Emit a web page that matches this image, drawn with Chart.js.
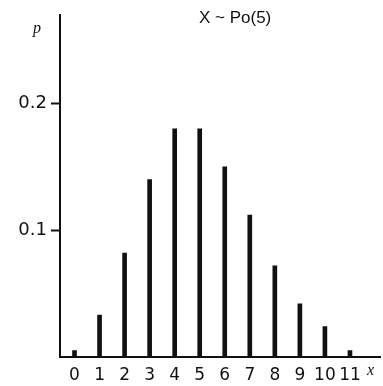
<!DOCTYPE html>
<html>
<head>
<meta charset="utf-8">
<script src="https://cdn.jsdelivr.net/npm/chart.js@4/dist/chart.umd.min.js"></script>
<style>
  html, body { margin: 0; padding: 0; background: #fff; }
  #wrap { width: 383px; height: 386px; }
</style>
</head>
<body>
<div id="wrap"><canvas id="myChart" width="383" height="386"></canvas></div>
<script>
// values
var xValues = [0, 1, 2, 3, 4, 5, 6, 7, 8, 9, 10, 11];
var probs = [0.005, 0.033, 0.082, 0.14, 0.18, 0.18, 0.15, 0.112, 0.072, 0.042, 0.024, 0.005];
var yTickValues = [0.1, 0.2];
var titleText = "X ~ Po(5)";

var points = xValues.map(function (x, i) { return { x: x, y: probs[i] }; });

// extra labels: title, p and x
var labelsPlugin = {
    id: "labels",
    afterDraw: function (chart) {
        var ctx = chart.ctx;
        ctx.save();
        ctx.fillStyle = "#111";
        ctx.textBaseline = "middle";
        ctx.textAlign = "left";
        ctx.font = "17px 'Liberation Sans'";
        ctx.fillText(titleText, 199, 18);
        ctx.font = "italic 16px 'Liberation Serif'";
        ctx.fillText("p", 33, 29);
        ctx.fillText("x", 367, 371);
        ctx.restore();
    }
};

new Chart(document.getElementById("myChart"), {
    type: "bar",
    data: {
        datasets: [{
            data: points,
            backgroundColor: "#111",
            borderWidth: 0,
            barThickness: 4
        }]
    },
    options: {
        responsive: false,
        animation: false,
        layout: { padding: { top: 14, right: 3, left: 0, bottom: 0 } },
        plugins: { legend: { display: false }, tooltip: { enabled: false } },
        scales: {
            x: {
                type: "linear",
                offset: false,
                min: -0.58,
                max: 12.2,
                afterBuildTicks: function (axis) {
                    axis.ticks = xValues.map(function (v) { return { value: v }; });
                },
                afterFit: function (axis) { axis.height = 29; },
                grid: { display: false, drawTicks: false, offset: false },
                border: { color: "#111", width: 2 },
                ticks: {
                    color: "#111",
                    padding: 8,
                    maxRotation: 0,
                    autoSkip: false,
                    font: { family: "'DejaVu Sans'", size: 17 }
                }
            },
            y: {
                min: 0,
                max: 0.27,
                afterBuildTicks: function (axis) {
                    axis.ticks = yTickValues.map(function (v) { return { value: v }; });
                },
                afterFit: function (axis) { axis.width = 60; },
                grid: { drawOnChartArea: false, tickLength: 9, color: "#111", tickWidth: 2 },
                border: { color: "#111", width: 2 },
                ticks: {
                    color: "#111",
                    padding: 4,
                    font: { family: "'DejaVu Sans'", size: 18 },
                    callback: function (v) { return v.toFixed(1); }
                }
            }
        }
    },
    plugins: [labelsPlugin]
});
</script>
</body>
</html>
